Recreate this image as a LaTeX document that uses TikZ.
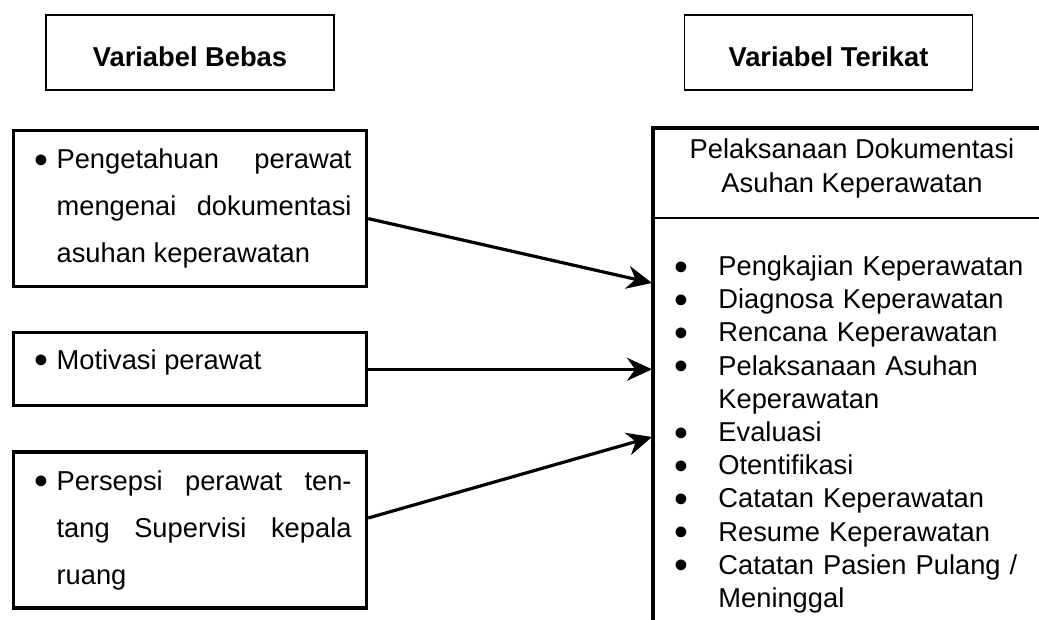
\documentclass[tikz,border=0pt]{standalone}
\usepackage{fontspec}
\setmainfont{Liberation Sans}
\usetikzlibrary{positioning,arrows.meta}

\newcommand{\titik}{\raisebox{-2.3pt}{\scalebox{1.45}{\textbullet}}}
\newcommand{\kiri}[1]{\leftskip=21.5pt\rightskip=7.5pt\parfillskip=0pt plus 1fil\tolerance=10000\noindent\llap{\makebox[11pt][l]{\titik}}#1\par}
\newcommand{\butir}[1]{\par\noindent\llap{\makebox[22pt][l]{\titik}}#1}

\begin{document}
\begin{tikzpicture}[x=0.5pt,y=-0.5pt,node distance=21.5pt,
  judul/.style={draw,line width=0.75pt,minimum width=144pt,minimum height=37.5pt,text height=14.5pt,text depth=0pt,font=\fontsize{13.65}{16}\selectfont\bfseries},
  kotak/.style={draw,line width=1.6pt,inner sep=0pt,text width=176.5pt,align=justify,font=\fontsize{13.65}{23.5}\selectfont},
  panah/.style={line width=1.6pt,-{Stealth[length=12.5pt,width=11.5pt]}}]
\useasboundingbox (0,0) rectangle (1039,620);
\node[judul] (bebas) at (190,52.5) {Variabel Bebas};
\node[judul] (terikat) at (828.5,52.5) {Variabel Terikat};
\node[kotak,minimum height=78pt,anchor=north west] (b1) at (12,129)
  {\kiri{Pengetahuan perawat\linebreak mengenai dokumentasi\linebreak asuhan keperawatan}};
\node[kotak,minimum height=36.5pt,text height=8pt,text depth=8pt,below=of b1] (b2) {\kiri{Motivasi perawat}};
\node[kotak,minimum height=78pt,below=of b2] (b3)
  {\kiri{Persepsi perawat ten-\linebreak tang Supervisi kepala\linebreak ruang}};
\coordinate (rk) at (653,128);
\draw[line width=1.6pt] (1039,128) -- (rk) -- (653,620);
\draw[line width=0.8pt] (653,218) -- (1039,218);
\node[align=center,inner sep=0pt,font=\fontsize{13.65}{17}\selectfont] (pelaksanaan) at (852,168)
  {Pelaksanaan Dokumentasi\\Asuhan Keperawatan};
\node[inner sep=0pt,text width=182pt,align=left,anchor=north west,font=\fontsize{13.65}{16.6}\selectfont] (daftar) at (674,242)
  {\leftskip=22pt\parskip=0pt
   \butir{Pengkajian Keperawatan}
   \butir{Diagnosa Keperawatan}
   \butir{Rencana Keperawatan}
   \butir{Pelaksanaan Asuhan\newline Keperawatan}
   \butir{Evaluasi}
   \butir{Otentifikasi}
   \butir{Catatan Keperawatan}
   \butir{Resume Keperawatan}
   \butir{Catatan Pasien Pulang /\newline Meninggal}\par};
\coordinate (m1) at (652,283);
\coordinate (m3) at (652,437);
\draw[panah] ([yshift=-5pt]b1.east) -- (m1);
\draw[panah] (b2.east) -- (b2.east -| m1);
\draw[panah] ([yshift=6pt]b3.east) -- (m3);
\end{tikzpicture}
\end{document}
